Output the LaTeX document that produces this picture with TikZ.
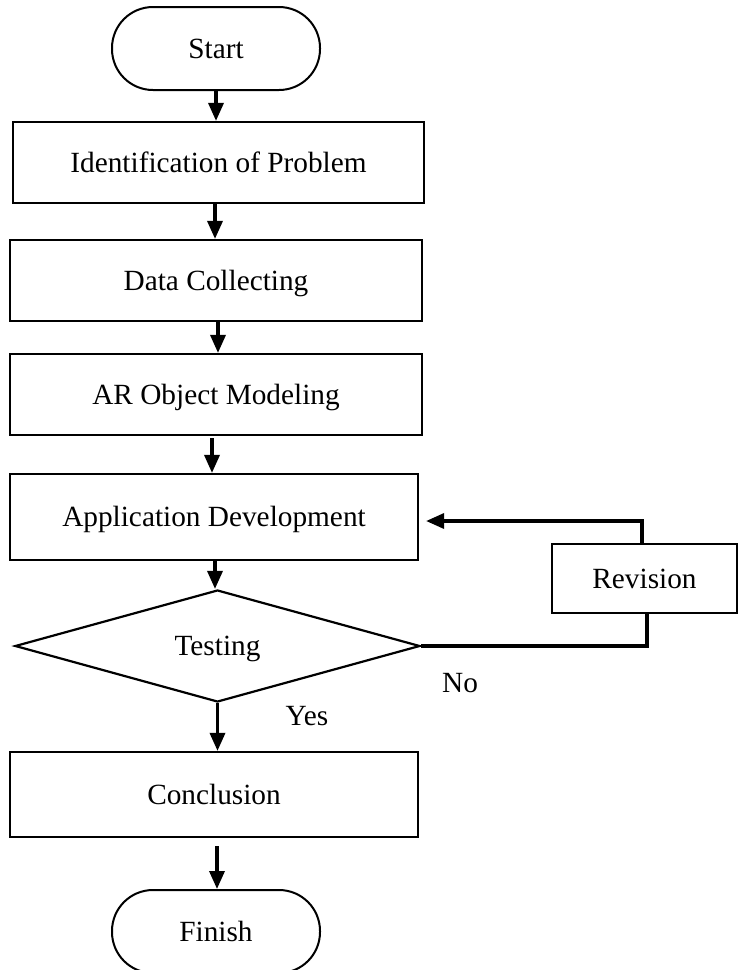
\documentclass[tikz,border=0pt]{standalone}
\usepackage{fontspec}
\setmainfont{Liberation Serif}
\usetikzlibrary{arrows.meta,shapes.geometric}
\begin{document}
\begin{tikzpicture}[x=1pt,y=-1pt,
  every node/.style={font=\fontsize{29.3}{34}\selectfont, inner sep=0pt, text height=19.5pt, text depth=0pt},
  terminal/.style={draw, line width=2pt, rounded corners=41pt, minimum width=208pt, minimum height=83pt},
  procbox/.style={draw, line width=2.2pt, rectangle},
  decision/.style={draw, line width=2.2pt, diamond, aspect=3.6, minimum width=405pt, minimum height=112pt},
  arr/.style={line width=3.4pt, -{Triangle[width=15pt,length=18pt]}},
  conn/.style={line width=3.4pt}
]
\clip (0,0) rectangle (738,970);
\node[terminal] (start) at (216,48.5) {Start};
\node[procbox, minimum width=411pt, minimum height=81pt] (b1) at (218.5,162.5) {Identification of Problem};
\node[procbox, minimum width=412pt, minimum height=81pt] (b2) at (216,280.5) {Data Collecting};
\node[procbox, minimum width=412pt, minimum height=81pt] (b3) at (216,394.5) {AR Object Modeling};
\node[procbox, minimum width=408pt, minimum height=86pt] (b4) at (214,517) {Application Development};
\node[decision] (test) at (217.5,646) {Testing};
\node[procbox, minimum width=185pt, minimum height=69pt] (rev) at (644.5,578.5) {Revision};
\node[procbox, minimum width=408pt, minimum height=85pt] (concl) at (214,794.5) {Conclusion};
\node[terminal] (finish) at (216,931.5) {Finish};
\node (yes) at (307,716) {Yes};
\node (no) at (460,683) {No};

\draw[arr] (start.south) -- (start.south |- b1.north);
\draw[arr] ([xshift=-3.5pt]b1.south) -- ([xshift=-3.5pt]b1.south |- b2.north);
\draw[arr] ([xshift=2pt]b2.south) -- ([xshift=2pt]b2.south |- b3.north);
\draw[arr] ([xshift=-4pt,yshift=-2pt]b3.south) -- ([xshift=-4pt]b3.south |- b4.north);
\draw[arr] ([xshift=1pt,yshift=2pt]b4.south) -- ([xshift=1pt]b4.south |- test.north);
\draw[arr] (test.south) -- (test.south |- concl.north);
\draw[arr] ([xshift=3pt,yshift=-8pt]concl.south) -- ([xshift=3pt]concl.south |- finish.north);
\draw[conn] (test.east) -| ([xshift=2.5pt]rev.south);
\draw[arr] ([xshift=-2.5pt]rev.north) |- ([xshift=7pt,yshift=-4pt]b4.east);
\end{tikzpicture}
\end{document}
